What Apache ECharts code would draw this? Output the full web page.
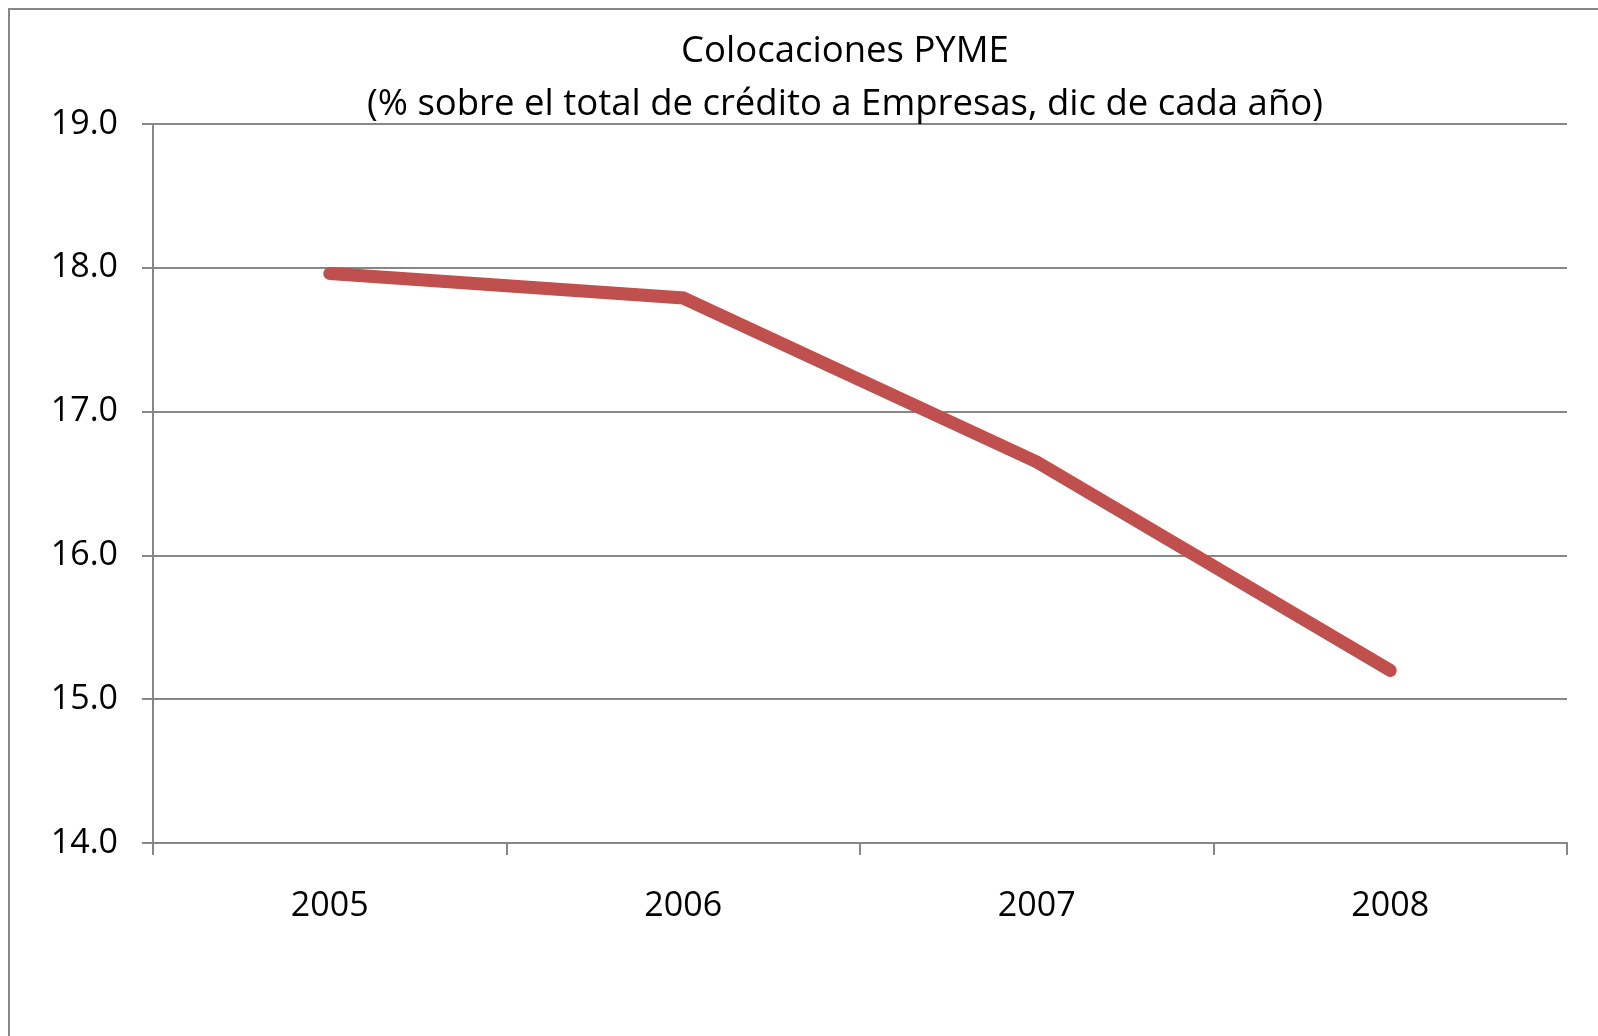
<!DOCTYPE html>
<html>
<head>
<meta charset="utf-8">
<script src="https://cdn.jsdelivr.net/npm/echarts@6/dist/echarts.min.js"></script>
<style>
  html, body { margin: 0; padding: 0; background: #fff; }
  #chart-container { width: 1598px; height: 1036px; }
</style>
</head>
<body>
<div id="chart-container"></div>
<script>
// data
var years = ['2005', '2006', '2007', '2008'];
var pymeShare = [17.96, 17.79, 16.65, 15.20];
var titleLines = ['Colocaciones PYME', '(% sobre el total de crédito a Empresas, dic de cada año)'];

var myChart = echarts.init(document.getElementById('chart-container'));
var gray = '#878787';

var option = {
    backgroundColor: '#ffffff',
    animation: false,
    textStyle: { fontFamily: 'Open Sans' },
    title: {
        text: titleLines.join('\n'),
        left: 840,
        top: 20,
        textAlign: 'center',
        textStyle: {
            fontFamily: 'Open Sans',
            fontSize: 36.5,
            fontWeight: 'normal',
            color: '#000',
            lineHeight: 53
        }
    },
    graphic: [{
        type: 'rect',
        shape: { x: 9, y: 9, width: 1700, height: 1100 },
        style: { fill: 'none', stroke: gray, lineWidth: 2 },
        silent: true
    }],
    grid: {
        left: 153,
        right: 31,
        top: 124,
        bottom: 193,
        containLabel: false
    },
    xAxis: {
        type: 'category',
        data: years,
        boundaryGap: true,
        axisLine: { show: true, lineStyle: { color: gray, width: 2 } },
        axisTick: { show: true, length: 12, lineStyle: { color: gray, width: 2 } },
        axisLabel: { fontSize: 34, color: '#000', margin: 46 },
        splitLine: { show: false }
    },
    yAxis: {
        type: 'value',
        min: 14,
        max: 19,
        interval: 1,
        axisLine: { show: true, lineStyle: { color: gray, width: 2 } },
        axisTick: { show: true, length: 11, lineStyle: { color: gray, width: 2 } },
        axisLabel: {
            fontSize: 34,
            color: '#000',
            margin: 35,
            formatter: function (v) { return v.toFixed(1); }
        },
        splitLine: { show: true, lineStyle: { color: gray, width: 2 } }
    },
    series: [{
        name: 'Colocaciones PYME',
        type: 'line',
        data: pymeShare,
        symbol: 'none',
        lineStyle: { color: '#C0504D', width: 13, cap: 'round', join: 'miter' },
        itemStyle: { color: '#C0504D' }
    }]
};

myChart.setOption(option);
</script>
</body>
</html>
